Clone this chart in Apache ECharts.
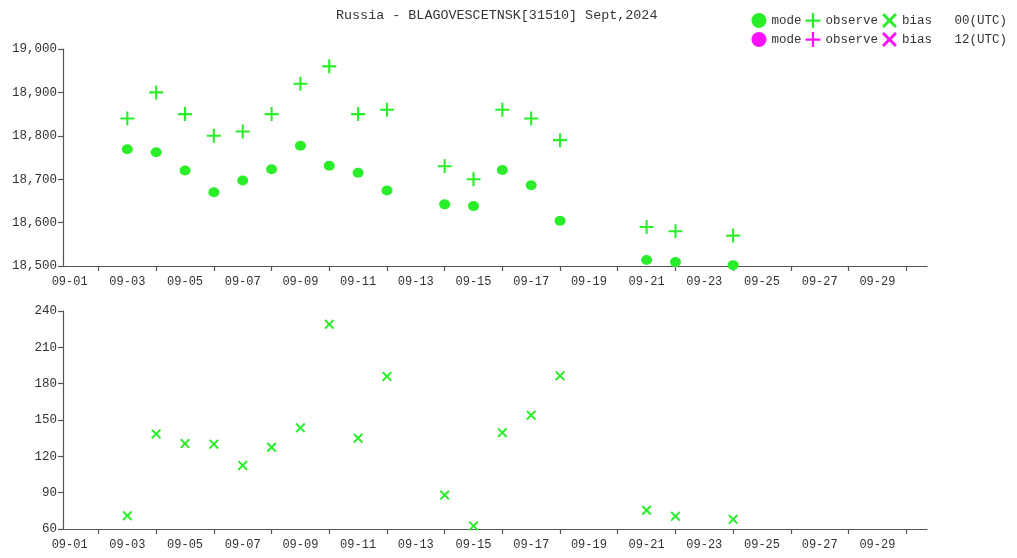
<!DOCTYPE html>
<html><head><meta charset="utf-8">
<script src="https://cdn.jsdelivr.net/npm/echarts@6/dist/echarts.min.js"></script>
<style>html,body{margin:0;padding:0;background:#fff}#c{width:1017px;height:558px}</style>
</head><body><div id="c"></div>
<script>
// Day of month (Sept 2024)
const days = [3,4,5,6,7,8,9,10,11,12,14,15,16,17,18,21,22,24];
const mode00 = [18769,18762,18720,18670,18697,18723,18777,18731,18715,18674,18642,18638,18721,18686,18604,18514,18509,18502];
const observe00 = [18840,18900,18850,18800,18810,18850,18920,18960,18850,18860,18730,18700,18860,18840,18790,18590,18580,18570];
const bias00 = [71,138.5,130.5,130,112.5,127.5,143.5,229,135,186,88,62.5,139.5,154,186.5,75.5,70.5,68];
const mode12 = [], observe12 = [], bias12 = [];
const tickLabels = ['09-01','09-03','09-05','09-07','09-09','09-11','09-13','09-15','09-17','09-19','09-21','09-23','09-25','09-27','09-29'];
const labelDays = [1,3,5,7,9,11,13,15,17,19,21,23,25,27,29];
const tickDays = [2,4,6,8,10,12,14,16,18,20,22,24,26,28,30];

const GREEN = '#2aee2a', MAGENTA = '#ff11ff';
const FONT = 'Liberation Mono';
const PLUS = 'path://M8.5,0h3v8.5h8.5v3h-8.5v8.5h-3v-8.5h-8.5v-3h8.5z';
const CROSS = 'path://M0,2.8L2.8,0L10,7.2L17.2,0L20,2.8L12.8,10L20,17.2L17.2,20L10,12.8L2.8,20L0,17.2L7.2,10Z';
const nameMap = {mode00:'mode',observe00:'observe',bias00:'bias   00(UTC)',mode12:'mode',observe12:'observe',bias12:'bias   12(UTC)'};

function xAxis(gi){
  return {type:'value', gridIndex:gi, min:0.77, max:30.72,
    axisLine:{show:true,lineStyle:{color:'#555',width:1.2}},
    axisTick:{show:true,customValues:tickDays,length:5,lineStyle:{color:'#555',width:1.2}},
    splitLine:{show:false},
    axisLabel:{customValues:labelDays,color:'#333',fontFamily:FONT,fontSize:12,margin:10,
      formatter:v=>tickLabels[labelDays.indexOf(Math.round(v))]||''}};
}
function yAxis(gi,min,max,interval){
  return {type:'value', gridIndex:gi, min, max, interval,
    axisLine:{show:true,lineStyle:{color:'#555',width:1.2}},
    axisTick:{show:true,length:5,lineStyle:{color:'#555',width:1.2}},
    splitLine:{show:false},
    axisLabel:{color:'#333',fontFamily:FONT,fontSize:12.5,margin:6}};
}
const pts = arr => days.map((d,i)=>[d,arr[i]]);
const legendBase = {right:5,itemGap:4,itemWidth:15,itemHeight:15,formatter:n=>nameMap[n],
  textStyle:{fontFamily:FONT,fontSize:12.5,color:'#333'}};

const chart = echarts.init(document.getElementById('c'));
chart.setOption({
  animation:false,
  title:{text:'Russia - BLAGOVESCETNSK[31510] Sept,2024',left:331,top:4,
    textStyle:{fontFamily:FONT,fontSize:13.4,fontWeight:'normal',color:'#333'}},
  legend:[
    Object.assign({top:8,data:['mode00','observe00','bias00']},legendBase),
    Object.assign({top:27,data:['mode12','observe12','bias12']},legendBase)
  ],
  grid:[{left:63,top:49,width:864,height:217},{left:63,top:311,width:864,height:218}],
  xAxis:[xAxis(0),xAxis(1)],
  yAxis:[yAxis(0,18500,19000,100),yAxis(1,60,240,30)],
  series:[
    {name:'mode00',type:'scatter',xAxisIndex:0,yAxisIndex:0,symbol:'circle',symbolSize:[11,10],itemStyle:{color:GREEN,opacity:1},data:pts(mode00)},
    {name:'observe00',type:'scatter',xAxisIndex:0,yAxisIndex:0,symbol:PLUS,symbolSize:14,itemStyle:{color:GREEN,opacity:1},data:pts(observe00)},
    {name:'bias00',type:'scatter',xAxisIndex:1,yAxisIndex:1,symbol:CROSS,symbolSize:10,itemStyle:{color:GREEN,opacity:1},data:pts(bias00)},
    {name:'mode12',type:'scatter',xAxisIndex:0,yAxisIndex:0,symbol:'circle',symbolSize:[11,10],itemStyle:{color:MAGENTA,opacity:1},data:mode12},
    {name:'observe12',type:'scatter',xAxisIndex:0,yAxisIndex:0,symbol:PLUS,symbolSize:14,itemStyle:{color:MAGENTA,opacity:1},data:observe12},
    {name:'bias12',type:'scatter',xAxisIndex:1,yAxisIndex:1,symbol:CROSS,symbolSize:10,itemStyle:{color:MAGENTA,opacity:1},data:bias12}
  ]
});
</script></body></html>
